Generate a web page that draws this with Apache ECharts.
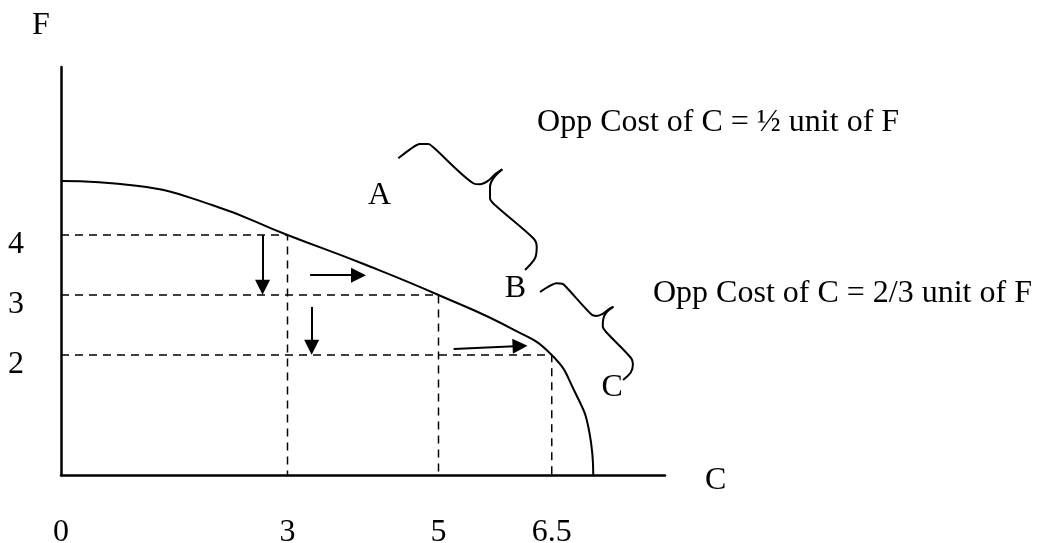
<!DOCTYPE html>
<html>
<head>
<meta charset="utf-8">
<script src="https://cdn.jsdelivr.net/npm/echarts@6.0.0/dist/echarts.min.js"></script>
<style>
  html, body { margin: 0; padding: 0; background: #fff; }
  #ppf { width: 1039px; height: 543px; }
</style>
</head>
<body>
<div id="ppf"></div>
<script>
// tick labels
var cTicks = [0, 3, 5, 6.5];
var fTicks = [2, 3, 4];

// production possibilities frontier (C, F)
var ppfCurve = [[0, 4.9], [1, 4.82], [2, 4.5], [3, 4], [4, 3.52], [5, 3], [6, 2.42], [6.5, 2], [6.8, 1.4], [7, 0.7], [7.05, 0]];
// points that get dashed guide lines
var guidePoints = [[3, 4], [5, 3], [6.5, 2]];

// arrows: [from, to]
var arrowMoves = [
	[[2.67, 4], [2.67, 3.13]],
	[[3.3, 3.33], [3.94, 3.33]],
	[[3.32, 2.8], [3.32, 2.13]],
	[[5.2, 2.1], [6.08, 2.15]]
];

// point letters
var pointNames = ['A', 'B', 'C'];
var pointSpots = [[4.22, 4.65], [6.02, 3.10], [7.30, 1.45]];

// opportunity cost notes
var costNotes = ['Opp Cost of C = ½ unit of F', 'Opp Cost of C = 2/3 unit of F'];
var costSpots = [[6.305, 5.88], [7.841, 3.03]];

// curly braces, tip is the 10th point
var braceAB = [[4.468, 5.278], [4.623, 5.428], [4.755, 5.517], [4.865, 5.517], [4.931, 5.462], [5.461, 4.862], [5.550, 4.845], [5.660, 4.905], [5.748, 5.012], [5.845, 5.095],
	[5.726, 4.945], [5.682, 4.805], [5.682, 4.612], [5.748, 4.500], [6.256, 3.945], [6.301, 3.805], [6.278, 3.612], [6.146, 3.417]];
var braceBC = [[6.344, 3.050], [6.462, 3.143], [6.562, 3.197], [6.640, 3.187], [6.685, 3.142], [7.030, 2.670], [7.093, 2.652], [7.175, 2.685], [7.244, 2.753], [7.317, 2.805],
	[7.224, 2.708], [7.185, 2.612], [7.176, 2.473], [7.217, 2.388], [7.550, 1.950], [7.575, 1.847], [7.548, 1.712], [7.444, 1.583]];

var serif = "'Liberation Serif', 'Times New Roman', serif";
var ink = '#000';

var chartObj = echarts.init(document.getElementById('ppf'));

var series = [];

//PPF curve
series.push({
	type: 'line',
	data: ppfCurve,
	smooth: 0.5,
	showSymbol: false,
	lineStyle: { color: ink, width: 2 },
	z: 5
});

//dashed guides
guidePoints.forEach(function (p) {
	series.push({
		type: 'line',
		data: [[0, p[1]], [p[0], p[1]], [p[0], 0]],
		showSymbol: false,
		lineStyle: { color: ink, width: 1.5, type: [8, 6] }
	});
});

//arrows
series.push({
	type: 'lines',
	coordinateSystem: 'cartesian2d',
	data: arrowMoves.map(function (m) { return { coords: m }; }),
	symbol: ['none', 'triangle'],
	symbolSize: 15,
	lineStyle: { color: ink, width: 2, opacity: 1 },
	z: 6
});

//braces, drawn in two halves so the tip stays sharp
[braceAB, braceBC].forEach(function (b) {
	[b.slice(0, 10), b.slice(9)].forEach(function (half) {
		series.push({
			type: 'line',
			data: half,
			smooth: 0.3,
			showSymbol: false,
			lineStyle: { color: ink, width: 2 }
		});
	});
});

var textLabel = { show: true, formatter: '{b}', color: ink, opacity: 1, fontSize: 32, fontFamily: serif, textBorderWidth: 0 };

//letters
series.push({
	type: 'scatter',
	symbolSize: 0,
	itemStyle: { color: ink },
	data: pointNames.map(function (n, i) { return { name: n, value: pointSpots[i] }; }),
	label: Object.assign({ position: 'inside' }, textLabel)
});

//notes
series.push({
	type: 'scatter',
	symbolSize: 0,
	itemStyle: { color: ink },
	data: costNotes.map(function (n, i) { return { name: n, value: costSpots[i] }; }),
	label: Object.assign({ position: 'right', distance: 0 }, textLabel)
});

var option = {
	animation: false,
	backgroundColor: '#fff',
	grid: { left: 61, right: 374, top: 67, bottom: 68, containLabel: false, outerBoundsMode: 'none' },
	xAxis: {
		type: 'value',
		min: 0,
		max: 8,
		name: 'C',
		nameLocation: 'end',
		nameGap: 40,
		nameTextStyle: { color: ink, fontSize: 32, fontFamily: serif, verticalAlign: 'top', lineHeight: 12 },
		axisLine: { lineStyle: { color: ink, width: 2.5 } },
		axisTick: { show: false },
		splitLine: { show: false },
		axisLabel: { customValues: cTicks, margin: 42, color: ink, fontSize: 32, fontFamily: serif }
	},
	yAxis: {
		type: 'value',
		min: 0,
		max: 6.8,
		name: 'F',
		nameLocation: 'end',
		nameGap: 25,
		nameTextStyle: { color: ink, fontSize: 32, fontFamily: serif, padding: [0, 40, 0, 0] },
		axisLine: { lineStyle: { color: ink, width: 2.5 } },
		axisTick: { show: false },
		splitLine: { show: false },
		axisLabel: { customValues: fTicks, margin: 37, color: ink, fontSize: 32, fontFamily: serif, verticalAlign: 'top', lineHeight: 20 }
	},
	series: series
};

chartObj.setOption(option);
</script>
</body>
</html>
